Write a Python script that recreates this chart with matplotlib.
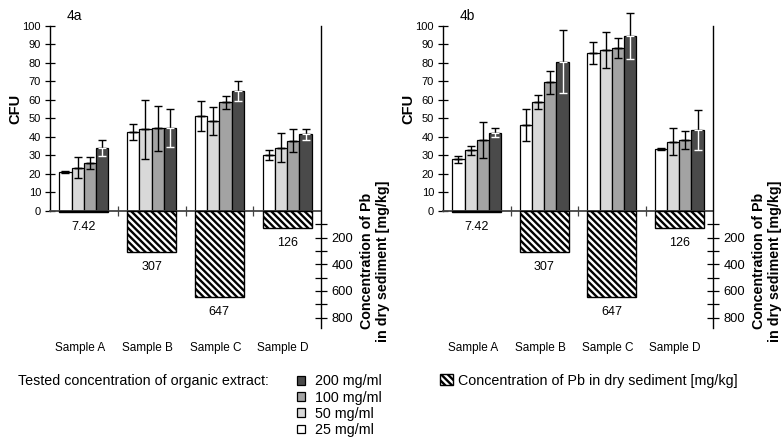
import matplotlib
matplotlib.use('Agg')
import matplotlib.pyplot as plt
import numpy as np
from matplotlib.transforms import blended_transform_factory

plt.rcParams['font.family'] = ['Liberation Sans', 'DejaVu Sans']
plt.rcParams['hatch.linewidth'] = 1.7

# ---------------- data ----------------
samples = ['Sample A', 'Sample B', 'Sample C', 'Sample D']
conc_labels = ['25 mg/ml', '50 mg/ml', '100 mg/ml', '200 mg/ml']
conc_colors = ['#ffffff', '#d9d9d9', '#a3a3a3', '#4a4a4a']
pb_values = [7.42, 307, 647, 126]
pb_labels = ['7.42', '307', '647', '126']
pb_legend = 'Concentration of Pb in dry sediment [mg/kg]'
extract_title = 'Tested concentration of organic extract:'
panel_titles = ['4a', '4b']

# rows: 25, 50, 100, 200 mg/ml ; columns: samples A-D
cfu_4a = [[21.1, 42.7, 51.2, 30.3],
          [23.3, 44.1, 48.5, 34.2],
          [25.9, 44.7, 58.6, 38.0],
          [33.9, 44.7, 64.9, 41.4]]
err_4a = [[0.4, 4.2, 8.1, 2.6],
          [5.7, 16.0, 7.5, 7.7],
          [3.3, 12.2, 3.7, 6.0],
          [4.3, 10.2, 5.4, 3.0]]
cfu_4b = [[27.9, 46.3, 85.1, 33.5],
          [32.8, 58.8, 86.9, 37.5],
          [38.2, 69.4, 88.1, 38.2],
          [42.3, 80.6, 94.6, 43.6]]
err_4b = [[2.0, 8.7, 5.9, 0.4],
          [2.5, 3.8, 9.9, 7.2],
          [9.7, 6.0, 5.5, 5.0],
          [2.5, 17.0, 12.5, 10.8]]

cfu_ticks = list(range(0, 101, 10))
pb_major = [200, 400, 600, 800]
pb_minor = [100, 300, 500, 700]

# ---------------- layout ----------------
W, H = 781, 438
fig = plt.figure(figsize=(W / 100, H / 100), dpi=100)

CFU_TOP = 111.0
CFU_BOT = -65.3
PB_PER_CFU = 13.9
PB_AXIS_END = 875
ax_top_px, ax_bot_px = 5.3, 332.0
ax_h_px = ax_bot_px - ax_top_px

panels = [
    dict(left=50, width=271, cfu=cfu_4a, err=err_4a, title=panel_titles[0]),
    dict(left=443, width=270, cfu=cfu_4b, err=err_4b, title=panel_titles[1]),
]

bw = 0.181
x = np.arange(len(samples))
legend_handles = None
pb_handle = None

for p in panels:
    ax = fig.add_axes([p['left'] / W, 1 - ax_bot_px / H, p['width'] / W, ax_h_px / H])
    ax.set_xlim(-0.5, len(samples) - 0.5)
    ax.set_ylim(CFU_BOT, CFU_TOP)
    ax.patch.set_alpha(0)

    handles = []
    for i in range(4):
        xs = x + (i - 1.5) * bw
        vals = np.array(p['cfu'][i])
        errs = np.array(p['err'][i])
        b = ax.bar(xs, vals, width=bw, color=conc_colors[i], edgecolor='black',
                   linewidth=0.9, zorder=2)
        handles.append(b)
        zeros = np.zeros_like(errs)
        ax.errorbar(xs, vals, yerr=[zeros, errs], fmt='none', ecolor='black',
                    elinewidth=1.0, capsize=2.6, capthick=1.0, zorder=3)
        low_col = 'white' if i == 3 else 'black'
        ax.errorbar(xs, vals, yerr=[errs, zeros], fmt='none', ecolor=low_col,
                    elinewidth=1.0, capsize=2.6, capthick=1.0, zorder=3)
    if legend_handles is None:
        legend_handles = handles

    # spines / ticks of CFU axis
    for s in ['top', 'right']:
        ax.spines[s].set_visible(False)
    ax.spines['left'].set_bounds(0, 100)
    ax.spines['left'].set_linewidth(1.0)
    ax.spines['bottom'].set_position(('data', 0))
    ax.spines['bottom'].set_color('#444444')
    ax.spines['bottom'].set_linewidth(1.3)
    ax.set_yticks(cfu_ticks)
    ax.tick_params(axis='y', direction='inout', length=7, width=0.9, labelsize=8, pad=3)
    ax.set_xticks(x[:-1] + 0.5)
    ax.tick_params(axis='x', direction='inout', length=7, width=0.9, labelbottom=False,
                   color='#444444')

    trans = blended_transform_factory(ax.transData, ax.transAxes)
    for xi, s in zip(x, samples):
        ax.text(xi - 0.06, (ax_bot_px - 348.5) / ax_h_px, s, transform=trans,
                ha='center', va='center', fontsize=8.5)

    ax.text(24 / p['width'], (ax_bot_px - 16.5) / ax_h_px, p['title'],
            transform=ax.transAxes, ha='center', va='center', fontsize=10)
    ax.text(-35 / p['width'], (ax_bot_px - 109) / ax_h_px, 'CFU', rotation=90,
            transform=ax.transAxes, ha='center', va='center', fontsize=10.5,
            fontweight='bold')

    # Pb axis (twin, inverted)
    tw = ax.twinx()
    tw.set_ylim(-CFU_BOT * PB_PER_CFU, -CFU_TOP * PB_PER_CFU)
    pbb = tw.bar(x, pb_values, width=4 * bw, color='white', edgecolor='black',
                 linewidth=1.0, hatch='\\\\\\\\\\', zorder=2)
    if pb_handle is None:
        pb_handle = pbb
    for xi, v, lab in zip(x, pb_values, pb_labels):
        tw.annotate(lab, (xi, v), xytext=(0, -15), textcoords='offset pixels',
                    ha='center', va='center', fontsize=9)
    for s in ['top', 'left', 'bottom']:
        tw.spines[s].set_visible(False)
    tw.spines['right'].set_bounds(-100 * PB_PER_CFU, PB_AXIS_END)
    tw.spines['right'].set_linewidth(1.0)
    tw.set_yticks(pb_major)
    tw.set_yticks(pb_minor, minor=True)
    tw.tick_params(axis='y', which='both', direction='inout', length=9, width=0.9,
                   labelsize=9.3, pad=3)
    tw.text(1 + (375 - 50 - 271) / p['width'], (ax_bot_px - 261) / ax_h_px,
            'Concentration of Pb\nin dry sediment [mg/kg]', rotation=90,
            transform=tw.transAxes, ha='center', va='center', fontsize=10.3,
            fontweight='bold', linespacing=1.2)

# ---------------- legends ----------------
fig.text(18 / W, 1 - 380.7 / H, extract_title, ha='left', va='center', fontsize=10.3)
fig.legend(legend_handles[::-1], conc_labels[::-1], loc='upper left',
           bbox_to_anchor=(297 / W, 1 - 374.5 / H), frameon=False, fontsize=10.3,
           handlelength=0.58, handleheight=0.55, handletextpad=0.7,
           labelspacing=0.15, borderpad=0, borderaxespad=0)
fig.legend([pb_handle], [pb_legend], loc='upper left',
           bbox_to_anchor=(440 / W, 1 - 373.5 / H), frameon=False, fontsize=10.3,
           handlelength=0.93, handleheight=0.8, handletextpad=0.35,
           borderpad=0, borderaxespad=0)

fig.savefig('out.png', dpi=100)
